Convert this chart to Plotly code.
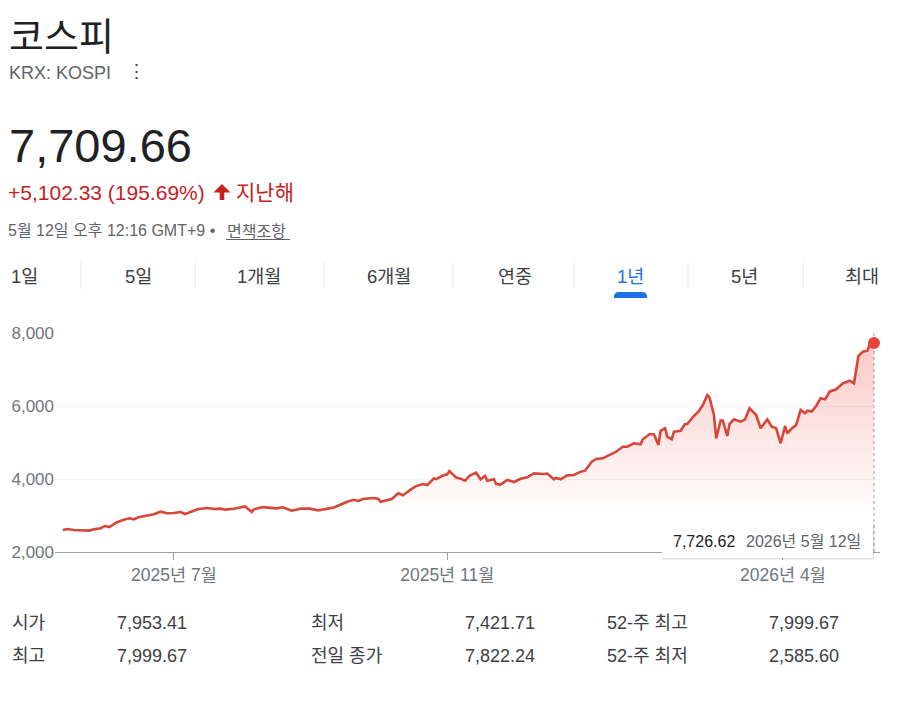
import plotly.graph_objects as go

# ---------------- data ----------------
dates = [
    "2025-05-12", "2025-05-14", "2025-05-17", "2025-05-21", "2025-05-24", "2025-05-26",
    "2025-05-29", "2025-05-31", "2025-06-02", "2025-06-05", "2025-06-08", "2025-06-11",
    "2025-06-13", "2025-06-15", "2025-06-18", "2025-06-22", "2025-06-25", "2025-06-28",
    "2025-07-01", "2025-07-04", "2025-07-06", "2025-07-09", "2025-07-12", "2025-07-16",
    "2025-07-19", "2025-07-22", "2025-07-24", "2025-07-28", "2025-08-02", "2025-08-05",
    "2025-08-06", "2025-08-10", "2025-08-13", "2025-08-16", "2025-08-19", "2025-08-23",
    "2025-08-27", "2025-08-31", "2025-09-04", "2025-09-08", "2025-09-11", "2025-09-17",
    "2025-09-20", "2025-09-22", "2025-09-24", "2025-09-29", "2025-10-01", "2025-10-02",
    "2025-10-05", "2025-10-07", "2025-10-10", "2025-10-12", "2025-10-16", "2025-10-18",
    "2025-10-21", "2025-10-23", "2025-10-26", "2025-10-27", "2025-10-30", "2025-11-01",
    "2025-11-02", "2025-11-05", "2025-11-07", "2025-11-09", "2025-11-11", "2025-11-14",
    "2025-11-16", "2025-11-18", "2025-11-19", "2025-11-22", "2025-11-23", "2025-11-25",
    "2025-11-28", "2025-12-01", "2025-12-04", "2025-12-07", "2025-12-10", "2025-12-14",
    "2025-12-16", "2025-12-19", "2025-12-20", "2025-12-22", "2025-12-25", "2025-12-28",
    "2025-12-31", "2026-01-02", "2026-01-05", "2026-01-07", "2026-01-10", "2026-01-13",
    "2026-01-16", "2026-01-19", "2026-01-21", "2026-01-24", "2026-01-27", "2026-01-28",
    "2026-01-31", "2026-02-02", "2026-02-04", "2026-02-05", "2026-02-07", "2026-02-08",
    "2026-02-10", "2026-02-11", "2026-02-14", "2026-02-16", "2026-02-17", "2026-02-20",
    "2026-02-22", "2026-02-24", "2026-02-26", "2026-02-27", "2026-03-01", "2026-03-02",
    "2026-03-04", "2026-03-05", "2026-03-07", "2026-03-08", "2026-03-10", "2026-03-13",
    "2026-03-15", "2026-03-17", "2026-03-19", "2026-03-20", "2026-03-22", "2026-03-25",
    "2026-03-27", "2026-03-29", "2026-03-31", "2026-04-02", "2026-04-03", "2026-04-05",
    "2026-04-07", "2026-04-09", "2026-04-11", "2026-04-12", "2026-04-14", "2026-04-16",
    "2026-04-18", "2026-04-20", "2026-04-22", "2026-04-25", "2026-04-28", "2026-05-01",
    "2026-05-03", "2026-05-05", "2026-05-07", "2026-05-09", "2026-05-10", "2026-05-12",
]
values = [
    2605, 2630, 2603, 2600, 2586, 2620,
    2650, 2712, 2685, 2803, 2877, 2923,
    2895, 2950, 2986, 3033, 3105, 3060,
    3068, 3096, 3041, 3115, 3178, 3205,
    3178, 3187, 3160, 3187, 3250, 3100,
    3170, 3230, 3215, 3195, 3225, 3132,
    3187, 3187, 3140, 3187, 3220, 3378,
    3430, 3400, 3452, 3478, 3452, 3375,
    3425, 3452, 3607, 3555, 3730, 3805,
    3863, 3832, 4018, 3995, 4095, 4130,
    4220, 4037, 4010, 3953, 4085, 4173,
    3992, 4082, 3953, 3992, 3863, 3845,
    3973, 3918, 4008, 4045, 4155, 4137,
    4150, 3992, 4030, 3992, 4100, 4110,
    4200, 4228, 4475, 4548, 4567, 4658,
    4748, 4885, 4885, 4978, 4950, 5088,
    5225, 5225, 4932, 5323, 5390, 5160,
    5088, 5296, 5323, 5507, 5507, 5726,
    5844, 6027, 6301, 6238, 5753, 5115,
    5598, 5598, 5178, 5507, 5635, 5571,
    5635, 5937, 5799, 5753, 5388, 5635,
    5433, 5390, 4978, 5452, 5252, 5388,
    5480, 5890, 5799, 5872, 5850, 6000,
    6210, 6183, 6392, 6457, 6621, 6693,
    6621, 7370, 7488, 7516, 7670, 7726.62,
]

y_tick_values = [2000, 4000, 6000, 8000]
x_tick_dates = ["2025-07-01", "2025-11-01", "2026-04-01"]
x_tick_labels = ["2025년 7월", "2025년 11월", "2026년 4월"]

title = "코스피"
ticker = "KRX: KOSPI"
price = "7,709.66"
change = "+5,102.33 (195.69%)"
change_period = "지난해"
timestamp = "5월 12일 오후 12:16 GMT+9 •"
disclaimer = "면책조항"
tabs = ["1일", "5일", "1개월", "6개월", "연중", "1년", "5년", "최대"]
active_tab = "1년"
tooltip_value = "7,726.62"
tooltip_date = "2026년 5월 12일"
stat_labels_1 = ["시가", "최고"]
stat_values_1 = ["7,953.41", "7,999.67"]
stat_labels_2 = ["최저", "전일 종가"]
stat_values_2 = ["7,421.71", "7,822.24"]
stat_labels_3 = ["52-주 최고", "52-주 최저"]
stat_values_3 = ["7,999.67", "2,585.60"]

# ---------------- layout helpers ----------------
# page coordinates (the page body adds an 8px offset)
W, H = 900, 721
OFF = 8
PLOT_X0, PLOT_X1, PLOT_Y0, PLOT_Y1 = 55, 880, 333, 552
L, T = PLOT_X0 - OFF, PLOT_Y0 - OFF
R, B = W - (PLOT_X1 - OFF), H - (PLOT_Y1 - OFF)
PW, PH = PLOT_X1 - PLOT_X0, PLOT_Y1 - PLOT_Y0
FONT = "'Liberation Sans', Arial, 'Noto Sans CJK KR', sans-serif"
KFONT = "'Noto Sans CJK KR', 'Liberation Sans', sans-serif"


def px(x):
    return (x - PLOT_X0) / PW


def py(y):
    return (PLOT_Y1 - y) / PH


annotations = []
shapes = []


def text(x, y, s, size, color, anchor="left", family=FONT, height=None):
    a = dict(
        x=px(x), y=py(y), xref="paper", yref="paper", text=s, showarrow=False,
        xanchor=anchor, yanchor="middle", borderpad=0,
        font=dict(size=size, color=color, family=family))
    if height:
        a["height"] = height
        a["valign"] = "middle"
    annotations.append(a)


def path(points, fill):
    d = "M " + " L ".join(f"{px(a):.5f},{py(b):.5f}" for a, b in points) + " Z"
    shapes.append(dict(type="path", xref="paper", yref="paper", path=d,
                       fillcolor=fill, line=dict(width=0), layer="above"))


def rect(x0, y0, x1, y1, fill):
    shapes.append(dict(type="rect", xref="paper", yref="paper",
                       x0=px(x0), x1=px(x1), y0=py(y1), y1=py(y0),
                       fillcolor=fill, line=dict(width=0), layer="above"))


def hline(x0, x1, y, color, width=1):
    shapes.append(dict(type="line", xref="paper", yref="paper",
                       x0=px(x0), x1=px(x1), y0=py(y), y1=py(y),
                       line=dict(color=color, width=width), layer="above"))


def vline(x, y0, y1, color, width=1):
    shapes.append(dict(type="line", xref="paper", yref="paper",
                       x0=px(x), x1=px(x), y0=py(y0), y1=py(y1),
                       line=dict(color=color, width=width), layer="above"))


# ---------------- header ----------------
text(8, 33, title, 38, "#202124", family=KFONT, height=44)
text(8, 73, ticker, 18, "#5f6368")
text(136, 71, "⋮", 19, "#444746", anchor="center")
text(8, 145, price, 47, "#202124")
text(7, 192, change, 21, "#c5221f")
path([(213.5, 192.5), (222, 184), (230.5, 192.5), (224.3, 192.5), (224.3, 200),
      (219.7, 200), (219.7, 192.5)], "#c5221f")
text(235, 191, change_period, 21, "#c5221f", family=KFONT)
text(7, 230, timestamp, 16, "#5f6368")
text(226, 230, disclaimer, 16, "#5f6368", family=KFONT)
hline(226, 290, 239.5, "#5f6368", 1)

# ---------------- tabs ----------------
tab_x = [10, 138, 259, 389, 515, 630, 744, 880]
for i, (t, x) in enumerate(zip(tabs, tab_x)):
    anchor = "left" if i == 0 else ("right" if i == len(tabs) - 1 else "center")
    color = "#1a73e8" if t == active_tab else "#3c4043"
    text(x, 276, t, 18.5, color, anchor=anchor)
for sx in [81, 195, 324, 453, 574, 688, 803]:
    vline(sx, 262, 289, "#e8e8e8", 1)
# active underline (rounded top)
path([(614, 298), (614, 295), (616, 292.5), (619, 292), (642, 292), (645, 292.5),
      (647, 295), (647, 298)], "#1a73e8")

# ---------------- tooltip ----------------
rect(663, 524, 875, 560, "rgba(0,0,0,0.05)")
rect(662, 523, 874, 559, "rgba(0,0,0,0.08)")
rect(662, 522, 873, 558, "#ffffff")
text(672, 541, tooltip_value, 16, "#202124")
text(745, 541, tooltip_date, 16, "#5f6368")

# ---------------- stats ----------------
for row, y in enumerate([623, 656]):
    text(11, y, stat_labels_1[row], 18, "#3c4043")
    text(116, y, stat_values_1[row], 18, "#3c4043")
    text(310, y, stat_labels_2[row], 18, "#3c4043")
    text(464, y, stat_values_2[row], 18, "#3c4043")
    text(606, y, stat_labels_3[row], 18, "#3c4043")
    text(768, y, stat_values_3[row], 18, "#3c4043")

# ---------------- chart ----------------
fig = go.Figure()
fig.add_trace(go.Scatter(
    x=dates, y=values, mode="lines",
    line=dict(color="#d8463a", width=2.6),
    fill="tozeroy",
    fillgradient=dict(type="vertical", start=3000, stop=8000,
                      colorscale=[[0, "rgba(234,67,53,0)"], [1, "rgba(234,67,53,0.30)"]]),
    hoverinfo="skip", showlegend=False,
))
fig.add_trace(go.Scatter(
    x=[dates[-1]], y=[values[-1]], mode="markers",
    marker=dict(color="#ea4335", size=12), cliponaxis=False,
    hoverinfo="skip", showlegend=False,
))

# dotted vertical line at last point
shapes.insert(0, dict(type="line", xref="x", yref="paper", x0=dates[-1], x1=dates[-1],
                      y0=0, y1=1, line=dict(color="#9aa0a6", width=1, dash="dot"),
                      layer="below"))

fig.update_layout(
    width=W, height=H,
    margin=dict(l=L, r=R, t=T, b=B, pad=0, autoexpand=False),
    paper_bgcolor="#ffffff", plot_bgcolor="#ffffff",
    font=dict(family=FONT, color="#70757a"),
    hovermode=False,
    annotations=annotations,
    shapes=shapes,
    xaxis=dict(
        type="date", automargin=False,
        range=["2025-05-08 12:00", "2026-05-14 17:00"],
        tickvals=x_tick_dates, ticktext=x_tick_labels,
        ticks="outside", ticklen=7, tickcolor="#9aa0a6", tickwidth=1,
        showline=True, linecolor="#9aa0a6", linewidth=1,
        showgrid=False, zeroline=False,
        tickfont=dict(size=17.5, color="#70757a", family=FONT),
        fixedrange=True,
    ),
    yaxis=dict(
        range=[2000, 8000], automargin=False,
        tickvals=y_tick_values, tickformat=",d",
        showgrid=True, gridcolor="#f1f3f4", gridwidth=1,
        zeroline=False, showline=False, ticks="",
        tickfont=dict(size=17, color="#70757a", family=FONT),
        fixedrange=True,
    ),
)

fig.write_html("out.html")
